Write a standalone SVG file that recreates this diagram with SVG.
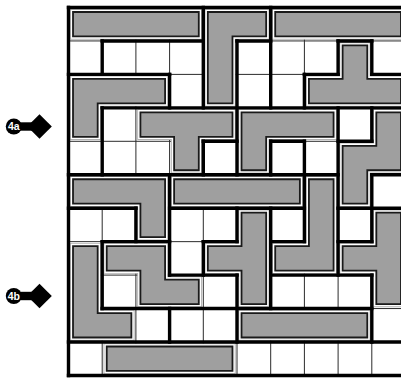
<svg xmlns="http://www.w3.org/2000/svg" xmlns:xlink="http://www.w3.org/1999/xlink" width="401" height="381" viewBox="0 0 401 381">
<style>
.grid{fill:none;stroke:#2b2b2b;stroke-width:1}
.thick{fill:none;stroke:#000;stroke-width:3.4;stroke-linecap:square}
.h1{fill:none;stroke:#b2b2b2;stroke-width:6.4}
.h2{fill:none;stroke:#fff;stroke-width:4.6}
.pc{fill:#9f9f9f;stroke:#1a1a1a;stroke-width:1.8}
.lbl{font-family:"Liberation Sans",Arial,sans-serif;font-weight:bold;font-size:10.5px;fill:#fff;text-anchor:middle}
</style>
<defs>
<path id="pA" vector-effect="non-scaling-stroke" d="M0.134 0.134H3.866V0.866H0.134Z"/>
<path id="pB" vector-effect="non-scaling-stroke" d="M4.134 0.134H5.866V0.866H4.866V2.866H4.134Z"/>
<path id="pC" vector-effect="non-scaling-stroke" d="M6.134 0.134H9.866V0.866H6.134Z"/>
<path id="pD" vector-effect="non-scaling-stroke" d="M8.134 1.134H8.866V2.134H9.866V2.866H7.134V2.134H8.134Z"/>
<path id="pE" vector-effect="non-scaling-stroke" d="M0.134 2.134H2.866V2.866H0.866V3.866H0.134Z"/>
<path id="pF" vector-effect="non-scaling-stroke" d="M2.134 3.134H4.866V3.866H3.866V4.866H3.134V3.866H2.134Z"/>
<path id="pG" vector-effect="non-scaling-stroke" d="M5.134 3.134H7.866V3.866H5.866V4.866H5.134Z"/>
<path id="pH" vector-effect="non-scaling-stroke" d="M9.134 3.134H9.866V4.866H8.866V5.866H8.134V4.134H9.134Z"/>
<path id="pI" vector-effect="non-scaling-stroke" d="M0.134 5.134H2.866V6.866H2.134V5.866H0.134Z"/>
<path id="pJ" vector-effect="non-scaling-stroke" d="M3.134 5.134H6.866V5.866H3.134Z"/>
<path id="pK" vector-effect="non-scaling-stroke" d="M7.134 5.134H7.866V7.866H6.134V7.134H7.134Z"/>
<path id="pL" vector-effect="non-scaling-stroke" d="M9.134 6.134H9.866V8.866H9.134V7.866H8.134V7.134H9.134Z"/>
<path id="pM" vector-effect="non-scaling-stroke" d="M5.134 6.134H5.866V8.866H5.134V7.866H4.134V7.134H5.134Z"/>
<path id="pN" vector-effect="non-scaling-stroke" d="M0.134 7.134H0.866V9.134H1.866V9.866H0.134Z"/>
<path id="pO" vector-effect="non-scaling-stroke" d="M1.134 7.134H2.866V8.134H3.866V8.866H2.134V7.866H1.134Z"/>
<path id="pP" vector-effect="non-scaling-stroke" d="M5.134 9.134H8.866V9.866H5.134Z"/>
<path id="pQ" vector-effect="non-scaling-stroke" d="M1.134 10.134H4.866V10.866H1.134Z"/>
</defs>
<rect width="401" height="381" fill="#fff"/>
<g transform="translate(68.5 7.5) scale(33.7 33.45)">
<g id="grid">
<path class="grid" vector-effect="non-scaling-stroke" d="M1 0V11M2 0V11M3 0V11M4 0V11M5 0V11M6 0V11M7 0V11M8 0V11M9 0V11M0 1H10M0 2H10M0 3H10M0 4H10M0 5H10M0 6H10M0 7H10M0 8H10M0 9H10M0 10H10"/>
</g>
<g id="piece-A"><use href="#pA" class="h1"/><use href="#pA" class="h2"/><use href="#pA" class="pc"/></g>
<g id="piece-B"><use href="#pB" class="h1"/><use href="#pB" class="h2"/><use href="#pB" class="pc"/></g>
<g id="piece-C"><use href="#pC" class="h1"/><use href="#pC" class="h2"/><use href="#pC" class="pc"/></g>
<g id="piece-D"><use href="#pD" class="h1"/><use href="#pD" class="h2"/><use href="#pD" class="pc"/></g>
<g id="piece-E"><use href="#pE" class="h1"/><use href="#pE" class="h2"/><use href="#pE" class="pc"/></g>
<g id="piece-F"><use href="#pF" class="h1"/><use href="#pF" class="h2"/><use href="#pF" class="pc"/></g>
<g id="piece-G"><use href="#pG" class="h1"/><use href="#pG" class="h2"/><use href="#pG" class="pc"/></g>
<g id="piece-H"><use href="#pH" class="h1"/><use href="#pH" class="h2"/><use href="#pH" class="pc"/></g>
<g id="piece-I"><use href="#pI" class="h1"/><use href="#pI" class="h2"/><use href="#pI" class="pc"/></g>
<g id="piece-J"><use href="#pJ" class="h1"/><use href="#pJ" class="h2"/><use href="#pJ" class="pc"/></g>
<g id="piece-K"><use href="#pK" class="h1"/><use href="#pK" class="h2"/><use href="#pK" class="pc"/></g>
<g id="piece-L"><use href="#pL" class="h1"/><use href="#pL" class="h2"/><use href="#pL" class="pc"/></g>
<g id="piece-M"><use href="#pM" class="h1"/><use href="#pM" class="h2"/><use href="#pM" class="pc"/></g>
<g id="piece-N"><use href="#pN" class="h1"/><use href="#pN" class="h2"/><use href="#pN" class="pc"/></g>
<g id="piece-O"><use href="#pO" class="h1"/><use href="#pO" class="h2"/><use href="#pO" class="pc"/></g>
<g id="piece-P"><use href="#pP" class="h1"/><use href="#pP" class="h2"/><use href="#pP" class="pc"/></g>
<g id="piece-Q"><use href="#pQ" class="h1"/><use href="#pQ" class="h2"/><use href="#pQ" class="pc"/></g>
<g id="region-borders">
<path class="thick" vector-effect="non-scaling-stroke" d="M0 0H10M1 1H4M5 1H6M8 1H9M0 2H3M7 2H8M9 2H10M1 3H10M4 4H5M6 4H7M8 4H9M0 5H8M9 5H10M0 6H2M3 6H7M8 6H10M1 7H3M4 7H5M6 7H7M8 7H9M3 8H5M6 8H9M1 9H9M0 10H10M0 11H10"/>
<path class="thick" vector-effect="non-scaling-stroke" d="M0 0V11M1 1V2M1 3V5M1 7V9M2 6V7M3 2V3M3 5V8M3 9V10M4 0V3M4 4V5M4 7V8M5 1V5M5 6V7M5 8V10M6 0V3M6 4V5M6 6V9M7 2V3M7 4V7M8 1V2M8 3V8M9 1V2M9 3V4M9 5V7M9 8V10"/>
</g>
</g>
<g id="label-4a">
<rect x="20" y="122.3" width="15" height="8.4" fill="#000"/>
<path d="M39.5 114.2L51.8 126.5L39.5 138.8L27.2 126.5Z" fill="#000"/>
<circle cx="13.8" cy="126.5" r="8" fill="#000"/>
<text class="lbl" x="13.8" y="130.2">4a</text>
</g>
<g id="label-4b">
<rect x="20" y="291.8" width="15" height="8.4" fill="#000"/>
<path d="M39.5 283.7L51.8 296L39.5 308.3L27.2 296Z" fill="#000"/>
<circle cx="13.8" cy="296" r="8" fill="#000"/>
<text class="lbl" x="13.8" y="299.7">4b</text>
</g>
</svg>
